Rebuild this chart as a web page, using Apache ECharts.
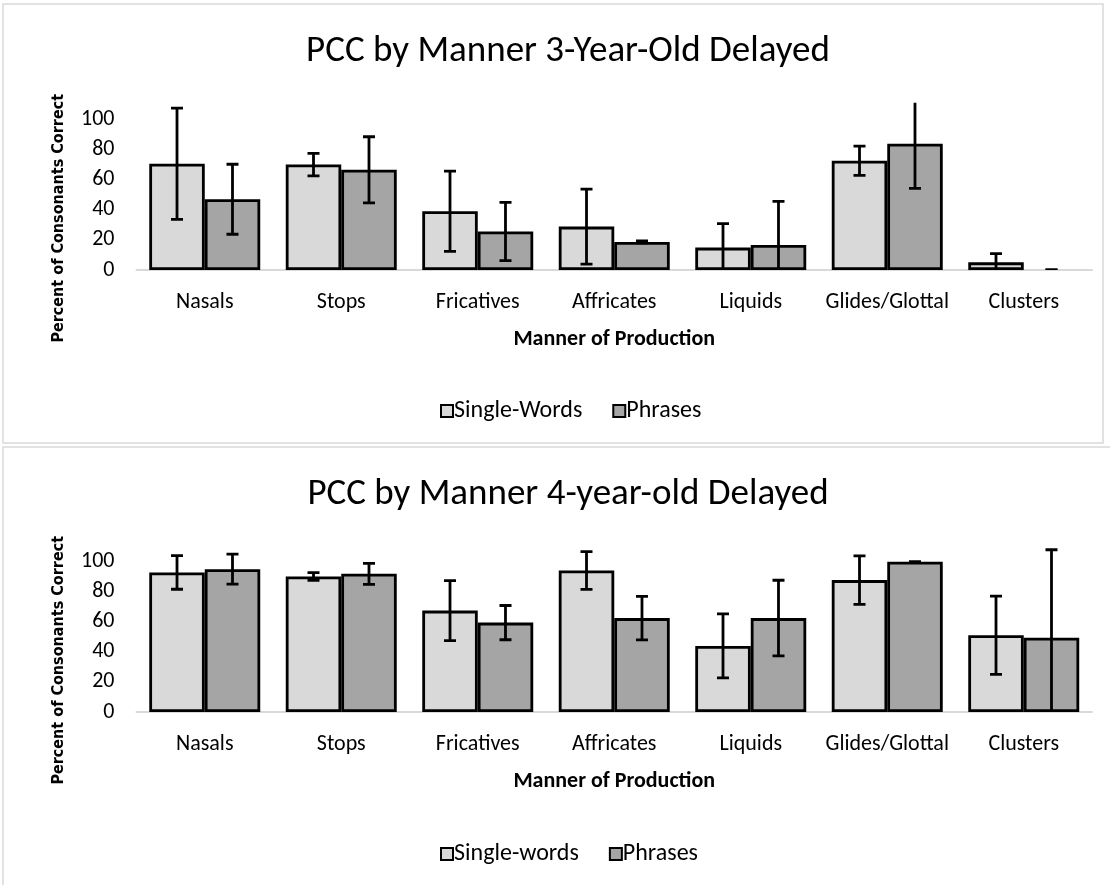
<!DOCTYPE html>
<html>
<head>
<meta charset="utf-8">
<script src="https://cdn.jsdelivr.net/npm/echarts@6/dist/echarts.min.js"></script>
<style>html,body{margin:0;padding:0;background:#fff}#c{width:1110px;height:885px}</style>
</head>
<body>
<div id="c"></div>
<script>
const categories = ['Nasals','Stops','Fricatives','Affricates','Liquids','Glides/Glottal','Clusters'];
const yTicks = [0,20,40,60,80,100];

const title3 = 'PCC by Manner 3-Year-Old Delayed';
const single3 = [70.7, 70.2, 39.1, 28.9, 14.9, 72.7, 5.1];
const single3Err = [37, 7.5, 26.7, 25, 16, 9.7, 5.8];
const phrase3 = [47.1, 66.7, 25.6, 18.7, 16.7, 84, 0];
const phrase3Err = [23.3, 22, 19.4, 0.6, 29, 29.6, 0];

const title4 = 'PCC by Manner 4-year-old Delayed';
const single4 = [92.9, 90.2, 67.5, 94.2, 44, 87.8, 51.1];
const single4Err = [11.2, 2.6, 20, 12.6, 21.3, 16.1, 26];
const phrase4 = [95.1, 92, 59.5, 62.5, 62.5, 100, 49.5];
const phrase4Err = [10, 7, 11.4, 14.5, 25.2, 0, 58.5];

const legend3 = ['Single-Words','Phrases'];
const legend4 = ['Single-words','Phrases'];

const FONT = 'Carlito, Lato, sans-serif';
const YMAX = 111.5;
const GAP = 0.187;
const C1 = '#d9d9d9', C2 = '#a5a5a5';

function barData(vals){
  return vals.map(v => v === 0 ? {value: v, itemStyle: {borderWidth: 0}} : v);
}
function errData(vals, errs){
  return vals.map((v,i) => [i, v, errs[i]]);
}
function errRender(side){
  return function(params, api){
    const i = api.value(0), v = api.value(1), e = api.value(2);
    const bw = api.size([1,0])[0];
    const off = side * bw * (1-GAP) / 4;
    const hiV = v + e, loV = v - e;
    const hi = Math.min(hiV, YMAX), lo = Math.max(loV, 0);
    const pTop = api.coord([i, hi]);
    const pBot = api.coord([i, lo]);
    const x = pTop[0] + off;
    const cap = 6;
    const st = {stroke:'#000', lineWidth:2.8};
    const ch = [{type:'line', shape:{x1:x,y1:pTop[1],x2:x,y2:pBot[1]}, style:st}];
    if (hiV <= YMAX) ch.push({type:'line', shape:{x1:x-cap,y1:pTop[1],x2:x+cap,y2:pTop[1]}, style:st});
    if (loV >= 0) ch.push({type:'line', shape:{x1:x-cap,y1:pBot[1],x2:x+cap,y2:pBot[1]}, style:st});
    return {type:'group', children: ch};
  };
}

const grids = [
  {left:136.5, right:18, top:102.5, height:167.5},
  {left:136.5, right:18, top:544.5, height:167.5}
];
function xAx(g){
  return {type:'category', gridIndex:g, data:categories,
    axisLine:{lineStyle:{color:'#d9d9d9', width:2}}, axisTick:{show:false},
    axisLabel:{color:'#000', fontFamily:FONT, fontSize:22, margin:21, interval:0},
    name:'Manner of Production', nameLocation:'middle', nameGap:58,
    nameTextStyle:{color:'#000', fontFamily:FONT, fontSize:22, fontWeight:'bold'}};
}
function yAx(g){
  return {type:'value', gridIndex:g, min:0, max:YMAX, interval:20,
    axisLine:{show:false}, axisTick:{show:false}, splitLine:{show:false},
    axisLabel:{color:'#000', fontFamily:FONT, fontSize:22, margin:22, showMaxLabel:false,
      formatter: v => yTicks.indexOf(v) >= 0 ? String(v) : ''},
    name:'Percent of Consonants Correct', nameLocation:'middle', nameGap:70, nameRotate:90,
    nameTextStyle:{color:'#000', fontFamily:'DejaVu Sans Condensed, DejaVu Sans, sans-serif', fontSize:16, fontWeight:'bold', padding:[0,64,0,0]}};
}
function barS(name, vals, color, g){
  return {type:'bar', name:name, xAxisIndex:g, yAxisIndex:g, data:barData(vals),
    barGap:'0%', barCategoryGap:(GAP*100)+'%',
    itemStyle:{color:color, borderColor:'#000', borderWidth:2.8}};
}
function errS(vals, errs, side, g){
  return {type:'custom', xAxisIndex:g, yAxisIndex:g, data:errData(vals, errs),
    renderItem: errRender(side), clip:true, z:5, silent:true};
}
const legendBase = {left:435, itemWidth:12, itemHeight:12, itemGap:30, icon:'rect',
  textStyle:{fontFamily:FONT, fontSize:24, color:'#000', padding:[0,0,0,-4]}};

const chart = echarts.init(document.getElementById('c'));
chart.setOption({
  animation:false,
  backgroundColor:'#fff',
  title:[
    {text:title3, left:563, top:28, textAlign:'center', textStyle:{fontFamily:FONT, fontSize:37, fontWeight:'normal', color:'#000'}},
    {text:title4, left:563, top:471, textAlign:'center', textStyle:{fontFamily:FONT, fontSize:37, fontWeight:'normal', color:'#000'}}
  ],
  legend:[
    Object.assign({data:legend3, top:394}, legendBase),
    Object.assign({data:legend4, top:837}, legendBase)
  ],
  grid:grids,
  xAxis:[xAx(0), xAx(1)],
  yAxis:[yAx(0), yAx(1)],
  graphic:[
    {type:'rect', shape:{x:3, y:4, width:1100, height:439}, style:{fill:'none', stroke:'#d9d9d9', lineWidth:1.5}, z:-10},
    {type:'rect', shape:{x:3, y:447, width:1130, height:460}, style:{fill:'none', stroke:'#d9d9d9', lineWidth:1.5}, z:-10}
  ],
  series:[
    barS(legend3[0], single3, C1, 0),
    barS(legend3[1], phrase3, C2, 0),
    errS(single3, single3Err, -1, 0),
    errS(phrase3, phrase3Err, 1, 0),
    barS(legend4[0], single4, C1, 1),
    barS(legend4[1], phrase4, C2, 1),
    errS(single4, single4Err, -1, 1),
    errS(phrase4, phrase4Err, 1, 1)
  ]
});
</script>
</body>
</html>
